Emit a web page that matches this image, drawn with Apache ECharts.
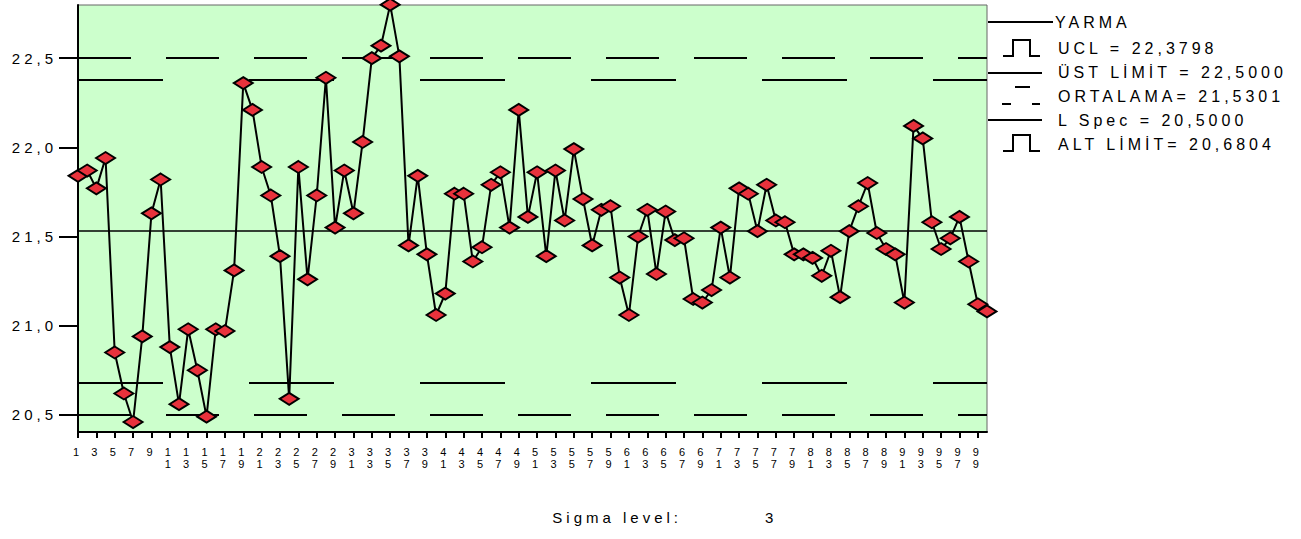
<!DOCTYPE html>
<html>
<head>
<meta charset="utf-8">
<script src="https://cdn.jsdelivr.net/npm/echarts@6/dist/echarts.min.js"></script>
<style>
  html, body { margin: 0; padding: 0; background: #fff; }
  #chart { width: 1301px; height: 539px; }
  #chart text { letter-spacing: 4px; }
</style>
</head>
<body>
<div id="chart"></div>
<script>
// sample numbers 1..100
const categories = Array.from({ length: 100 }, (_, i) => String(i + 1));

const yarma = [
  21.84, 21.87, 21.77, 21.94, 20.85, 20.62, 20.46, 20.94, 21.63, 21.82,
  20.88, 20.56, 20.98, 20.75, 20.49, 20.98, 20.97, 21.31, 22.36, 22.21,
  21.89, 21.73, 21.39, 20.59, 21.89, 21.26, 21.73, 22.39, 21.55, 21.87,
  21.63, 22.03, 22.50, 22.57, 22.80, 22.51, 21.45, 21.84, 21.40, 21.06,
  21.18, 21.74, 21.74, 21.36, 21.44, 21.79, 21.86, 21.55, 22.21, 21.61,
  21.86, 21.39, 21.87, 21.59, 21.99, 21.71, 21.45, 21.65, 21.67, 21.27,
  21.06, 21.50, 21.65, 21.29, 21.64, 21.48, 21.49, 21.15, 21.13, 21.20,
  21.55, 21.27, 21.77, 21.74, 21.53, 21.79, 21.59, 21.58, 21.40, 21.40,
  21.38, 21.28, 21.42, 21.16, 21.53, 21.67, 21.80, 21.52, 21.43, 21.40,
  21.13, 22.12, 22.05, 21.58, 21.43, 21.49, 21.61, 21.36, 21.12, 21.08
];

const ucl = 22.3798;
const usl = 22.5;
const mean = 21.5301;
const lsl = 20.5;
const lcl = 20.6804;

const yTicks = [20.5, 21.0, 21.5, 22.0, 22.5];

const legendItems = [
  'YARMA',
  'UCL = 22,3798',
  'ÜST LİMİT = 22,5000',
  'ORTALAMA= 21,5301',
  'L Spec = 20,5000',
  'ALT LİMİT= 20,6804'
];

const chart = echarts.init(document.getElementById('chart'), null, { renderer: 'svg' });

const font = 'Arial, "Liberation Sans", sans-serif';
const black = '#000';

chart.setOption({
  animation: false,
  backgroundColor: '#fff',
  textStyle: { fontFamily: font, color: black },
  grid: {
    left: 78, top: 5, right: 314, bottom: 107,
    show: true, backgroundColor: '#ccffcc', borderColor: '#666', borderWidth: 1
  },
  xAxis: {
    type: 'category',
    data: categories,
    boundaryGap: false,
    axisLine: { lineStyle: { color: black, width: 2 } },
    axisTick: { interval: (i) => i % 2 === 0, length: 6, lineStyle: { color: black, width: 2 } },
    axisLabel: {
      interval: (i) => i % 2 === 0,
      formatter: (v) => v.split('').join('\n'),
      fontSize: 11, lineHeight: 12, margin: 14, color: black, fontFamily: font
    },
    splitLine: { show: false }
  },
  yAxis: {
    type: 'value',
    min: 20.404,
    max: 22.798,
    axisLine: { show: true, lineStyle: { color: black, width: 2 } },
    axisTick: { show: true, customValues: yTicks, length: 19, lineStyle: { color: black, width: 2 } },
    axisLabel: {
      customValues: yTicks,
      formatter: (v) => v.toFixed(1).replace('.', ','),
      fontSize: 15, margin: 21, color: black, fontFamily: font
    },
    splitLine: { show: false }
  },
  series: [{
    name: 'YARMA',
    type: 'line',
    data: yarma,
    symbol: 'diamond',
    symbolSize: [19, 12],
    showAllSymbol: true,
    clip: false,
    lineStyle: { color: black, width: 2 },
    itemStyle: { color: '#e8323c', borderColor: black, borderWidth: 2 },
    z: 5,
    markLine: {
      silent: true,
      symbol: 'none',
      label: { show: false },
      z: 3,
      data: [
        { yAxis: mean, lineStyle: { color: black, width: 1.5, type: 'solid' } },
        { yAxis: ucl, lineStyle: { color: black, width: 2, type: [85, 86] } },
        { yAxis: lcl, lineStyle: { color: black, width: 2, type: [85, 86] } },
        { yAxis: usl, lineStyle: { color: black, width: 2, type: [53, 35] } },
        { yAxis: lsl, lineStyle: { color: black, width: 2, type: [53, 35] } }
      ]
    }
  }],
  graphic: [
    // legend
    { type: 'line', shape: { x1: 988, y1: 22, x2: 1053, y2: 22 }, style: { stroke: black, lineWidth: 2 } },
    { type: 'text', x: 1055, y: 22, style: { text: legendItems[0], font: '16px ' + font, fill: black, verticalAlign: 'middle' } },
    { type: 'polyline', shape: { points: [[1003, 56], [1013, 56], [1013, 40], [1030, 40], [1030, 56], [1040, 56]] }, style: { stroke: black, lineWidth: 2, fill: null } },
    { type: 'text', x: 1058, y: 48, style: { text: legendItems[1], font: '16px ' + font, fill: black, verticalAlign: 'middle' } },
    { type: 'line', shape: { x1: 988, y1: 73, x2: 1042, y2: 73 }, style: { stroke: black, lineWidth: 2 } },
    { type: 'text', x: 1058, y: 72, style: { text: legendItems[2], font: '16px ' + font, fill: black, verticalAlign: 'middle' } },
    { type: 'line', shape: { x1: 1015, y1: 87, x2: 1030, y2: 87 }, style: { stroke: black, lineWidth: 2 } },
    { type: 'line', shape: { x1: 1002, y1: 104, x2: 1011, y2: 104 }, style: { stroke: black, lineWidth: 2 } },
    { type: 'line', shape: { x1: 1032, y1: 104, x2: 1040, y2: 104 }, style: { stroke: black, lineWidth: 2 } },
    { type: 'text', x: 1058, y: 96, style: { text: legendItems[3], font: '16px ' + font, fill: black, verticalAlign: 'middle' } },
    { type: 'line', shape: { x1: 988, y1: 120, x2: 1042, y2: 120 }, style: { stroke: black, lineWidth: 2 } },
    { type: 'text', x: 1058, y: 120, style: { text: legendItems[4], font: '16px ' + font, fill: black, verticalAlign: 'middle' } },
    { type: 'polyline', shape: { points: [[1003, 151], [1013, 151], [1013, 135], [1030, 135], [1030, 151], [1040, 151]] }, style: { stroke: black, lineWidth: 2, fill: null } },
    { type: 'text', x: 1058, y: 144, style: { text: legendItems[5], font: '16px ' + font, fill: black, verticalAlign: 'middle' } },
    // sigma footer
    { type: 'text', x: 682, y: 517, style: { text: 'Sigma level:', font: '15px ' + font, fill: black, align: 'right', verticalAlign: 'middle' } },
    { type: 'text', x: 765, y: 517, style: { text: '3', font: '15px ' + font, fill: black, verticalAlign: 'middle' } }
  ]
});
</script>
</body>
</html>
